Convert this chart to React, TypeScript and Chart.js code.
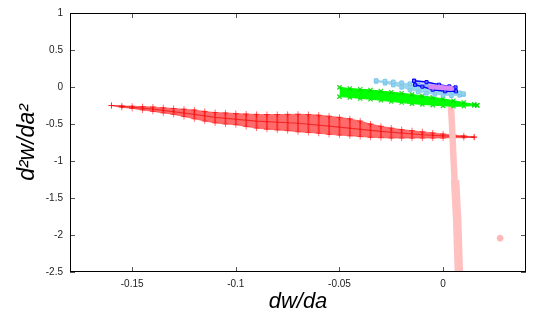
import React, { useEffect, useRef } from 'react';
import { Chart, registerables } from 'chart.js';

Chart.register(...registerables);

// ---- axis ticks ----
const X_TICKS = [-0.15, -0.1, -0.05, 0];
const X_TICK_LABELS = ['-0.15', '-0.1', '-0.05', '0'];
const Y_TICKS = [-2.5, -2, -1.5, -1, -0.5, 0, 0.5, 1];
const Y_TICK_LABELS = ['-2.5', '-2', '-1.5', '-1', '-0.5', '0', '0.5', '1'];

// ---- red (+) band: columns with upper / lower edges ----
const RED_X = [-0.160, -0.155, -0.150, -0.145, -0.140, -0.135, -0.130, -0.125, -0.120, -0.115, -0.110, -0.105, -0.100, -0.095, -0.090, -0.085, -0.080, -0.075, -0.070, -0.065, -0.060, -0.055, -0.050, -0.045, -0.040, -0.035, -0.030, -0.025, -0.020, -0.015, -0.010, -0.005, 0.000, 0.005, 0.010, 0.015];
const RED_TOP = [-0.25, -0.255, -0.26, -0.265, -0.27, -0.28, -0.29, -0.30, -0.31, -0.33, -0.345, -0.35, -0.358, -0.365, -0.37, -0.372, -0.372, -0.37, -0.368, -0.372, -0.38, -0.395, -0.41, -0.43, -0.46, -0.50, -0.53, -0.555, -0.575, -0.59, -0.605, -0.62, -0.635, -0.65, -0.66, -0.675];
const RED_BOT = [-0.25, -0.275, -0.29, -0.31, -0.33, -0.35, -0.37, -0.40, -0.43, -0.46, -0.485, -0.50, -0.51, -0.535, -0.555, -0.57, -0.58, -0.59, -0.605, -0.615, -0.625, -0.64, -0.65, -0.66, -0.67, -0.68, -0.685, -0.69, -0.69, -0.69, -0.69, -0.69, -0.69, -0.685, -0.685, -0.68];
const RED_MID_X = [-0.160, -0.140, -0.120, -0.110, -0.090, -0.070, -0.055, -0.030, -0.010, 0.000, 0.015];
const RED_MID_Y = [-0.25, -0.30, -0.37, -0.41, -0.46, -0.49, -0.528, -0.60, -0.645, -0.66, -0.677];

// ---- pink (circles) strip ----
const PINK_UPPER_X = [0.0038, 0.0042, 0.0050, 0.0056];
const PINK_UPPER_Y = [-0.27, -0.46, -0.95, -1.30];
const PINK_LOWER_X = [0.0058, 0.0068, 0.0076, 0.0078];
const PINK_LOWER_Y = [-1.26, -1.80, -2.50, -2.60];
const PINK_OUT_X = [0.0275];
const PINK_OUT_Y = [-2.043];

// ---- green (x) band ----
const GREEN_X = [-0.050, -0.045, -0.040, -0.035, -0.030, -0.025, -0.020, -0.015, -0.010, -0.005, 0.000, 0.005, 0.010, 0.015, 0.0165];
const GREEN_TOP = [-0.005, -0.02, -0.03, -0.04, -0.055, -0.07, -0.085, -0.10, -0.12, -0.14, -0.16, -0.185, -0.21, -0.235, -0.245];
const GREEN_BOT = [-0.13, -0.14, -0.155, -0.165, -0.18, -0.195, -0.21, -0.225, -0.235, -0.245, -0.255, -0.26, -0.26, -0.25, -0.25];

// ---- light blue (squares) band ----
const LB_X = [-0.0323, -0.028, -0.024, -0.020, -0.016, -0.012, -0.008, -0.004, 0.000, 0.004, 0.008, 0.0098];
const LB_TOP = [0.088, 0.080, 0.070, 0.058, 0.045, 0.030, 0.012, -0.008, -0.030, -0.055, -0.078, -0.090];
const LB_BOT = [0.075, 0.050, 0.025, -0.005, -0.040, -0.065, -0.085, -0.100, -0.112, -0.118, -0.112, -0.102];

// ---- blue (squares) loop ----
const BLUE_X = [-0.0140, -0.0080, -0.0020, 0.0030, 0.0060, 0.0062, 0.0010, -0.0050, -0.0100, -0.0135, -0.0140];
const BLUE_Y = [0.084, 0.066, 0.030, 0.008, -0.005, -0.058, -0.058, -0.036, 0.005, 0.030, 0.084];

// ---- violet blob ----
const PURPLE_X = [-0.0060, -0.0010, 0.0040];
const PURPLE_Y = [0.002, -0.008, -0.020];

const pts = (xs: number[], ys: number[]) => xs.map((x, i) => ({ x, y: ys[i] }));

const framePlugin = {
  id: 'frame',
  afterDatasetsDraw(chart: any) {
    const { ctx, chartArea: a, scales } = chart;
    ctx.save();
    ctx.strokeStyle = '#555';
    ctx.lineWidth = 1;
    ctx.beginPath();
    X_TICKS.forEach((v) => {
      const px = Math.round(scales.x.getPixelForValue(v)) + 0.5;
      ctx.moveTo(px, a.bottom);
      ctx.lineTo(px, a.bottom - 5);
      ctx.moveTo(px, a.top);
      ctx.lineTo(px, a.top + 5);
    });
    Y_TICKS.forEach((v) => {
      const py = Math.round(scales.y.getPixelForValue(v)) + 0.5;
      ctx.moveTo(a.left, py);
      ctx.lineTo(a.left + 5, py);
      ctx.moveTo(a.right, py);
      ctx.lineTo(a.right - 5, py);
    });
    ctx.stroke();
    ctx.strokeStyle = '#000';
    ctx.strokeRect(a.left + 0.5, a.top + 0.5, a.right - a.left - 1, a.bottom - a.top - 1);
    ctx.restore();
  },
};

export default function App() {
  const ref = useRef<HTMLCanvasElement | null>(null);

  useEffect(() => {
    if (!ref.current) return;
    const chart = new Chart(ref.current, {
      type: 'scatter',
      data: {
        datasets: [
          // violet
          {
            data: pts(PURPLE_X, PURPLE_Y),
            showLine: true,
            borderColor: 'rgb(215,135,245)',
            borderWidth: 5,
            borderCapStyle: 'round',
            pointRadius: 0,
            order: 1,
            clip: 0,
          } as any,
          // blue loop
          {
            data: pts(BLUE_X, BLUE_Y),
            showLine: true,
            fill: 'shape',
            backgroundColor: 'rgba(110,110,255,0.3)',
            borderColor: 'rgb(0,0,255)',
            borderWidth: 1.5,
            pointStyle: 'rect',
            pointRadius: 2.2,
            pointBackgroundColor: 'rgba(120,120,255,0.7)',
            pointBorderColor: 'rgb(0,0,255)',
            pointBorderWidth: 1,
            order: 2,
            clip: 0,
          } as any,
          // light blue top / bottom
          {
            data: pts(LB_X, LB_TOP),
            showLine: true,
            fill: '+1',
            backgroundColor: 'rgba(135,206,235,0.85)',
            borderColor: 'rgba(135,206,235,0.6)',
            borderWidth: 1,
            pointStyle: 'rect',
            pointRadius: 2.5,
            pointBackgroundColor: 'rgb(150,212,240)',
            pointBorderColor: 'rgb(125,198,232)',
            order: 3,
            clip: 0,
          } as any,
          {
            data: pts(LB_X, LB_BOT),
            showLine: true,
            borderColor: 'rgba(135,206,235,0.6)',
            borderWidth: 1,
            pointStyle: 'rect',
            pointRadius: 2.5,
            pointBackgroundColor: 'rgb(150,212,240)',
            pointBorderColor: 'rgb(125,198,232)',
            order: 3,
            clip: 0,
          } as any,
          // green top / bottom
          {
            data: pts(GREEN_X, GREEN_TOP),
            showLine: true,
            fill: '+1',
            backgroundColor: 'rgb(0,255,0)',
            borderColor: 'rgb(0,245,0)',
            borderWidth: 1,
            pointStyle: 'crossRot',
            pointRadius: 3,
            pointBorderColor: 'rgba(0,220,0,0.9)',
            pointBorderWidth: 1.2,
            order: 4,
            clip: 0,
          } as any,
          {
            data: pts(GREEN_X, GREEN_BOT),
            showLine: true,
            borderColor: 'rgb(0,245,0)',
            borderWidth: 1,
            pointStyle: 'crossRot',
            pointRadius: 3,
            pointBorderColor: 'rgba(0,220,0,0.9)',
            pointBorderWidth: 1.2,
            order: 4,
            clip: 0,
          } as any,
          // pink strip
          {
            data: pts(PINK_UPPER_X, PINK_UPPER_Y),
            showLine: true,
            borderColor: 'rgb(255,192,192)',
            borderWidth: 6.5,
            borderCapStyle: 'round',
            borderJoinStyle: 'round',
            pointRadius: 0,
            order: 5,
            clip: 0,
          } as any,
          {
            data: pts(PINK_LOWER_X, PINK_LOWER_Y),
            showLine: true,
            borderColor: 'rgb(255,192,192)',
            borderWidth: 8.5,
            borderCapStyle: 'butt',
            borderJoinStyle: 'round',
            pointRadius: 0,
            order: 5,
            clip: 0,
          } as any,
          {
            data: pts(PINK_OUT_X, PINK_OUT_Y),
            pointStyle: 'circle',
            pointRadius: 3,
            backgroundColor: 'rgb(255,185,185)',
            borderColor: 'rgb(255,185,185)',
            order: 5,
            clip: 0,
          } as any,
          // red centre line
          {
            data: pts(RED_MID_X, RED_MID_Y),
            showLine: true,
            borderColor: 'rgba(235,0,0,0.6)',
            borderWidth: 1.2,
            pointRadius: 0,
            order: 6,
            clip: 0,
          } as any,
          // red top / bottom
          {
            data: pts(RED_X, RED_TOP),
            showLine: true,
            fill: '+1',
            backgroundColor: 'rgba(255,50,50,0.72)',
            borderColor: 'rgba(255,70,70,0.6)',
            borderWidth: 1,
            pointStyle: 'cross',
            pointRadius: 3,
            pointBorderColor: 'rgba(255,0,0,0.6)',
            pointBorderWidth: 1,
            order: 7,
            clip: 0,
          } as any,
          {
            data: pts(RED_X, RED_BOT),
            showLine: true,
            borderColor: 'rgba(255,70,70,0.6)',
            borderWidth: 1,
            pointStyle: 'cross',
            pointRadius: 3,
            pointBorderColor: 'rgba(255,0,0,0.55)',
            pointBorderWidth: 1,
            order: 7,
            clip: 0,
          } as any,
          // red vertical stripes (columns of + markers)
          {
            type: 'bar',
            data: RED_X.map((x, i) => ({ x, y: [RED_BOT[i], RED_TOP[i]] })),
            backgroundColor: 'rgba(240,0,0,0.8)',
            barThickness: 1.3,
            grouped: false,
            order: 8,
            clip: 0,
          } as any,
        ],
      },
      options: {
        animation: false,
        responsive: false,
        events: [],
        layout: { padding: { left: 0, right: 19, top: 11, bottom: 0 } },
        plugins: {
          legend: { display: false },
          tooltip: { enabled: false },
        },
        scales: {
          x: {
            type: 'linear',
            min: -0.18,
            max: 0.04,
            offset: false,
            grid: { display: false, drawTicks: false, offset: false },
            border: { display: false },
            afterBuildTicks: (scale: any) => {
              scale.ticks = X_TICKS.map((v) => ({ value: v }));
            },
            afterFit: (scale: any) => {
              scale.height = 55;
            },
            ticks: {
              padding: 6,
              color: '#222',
              font: { family: '"Liberation Sans", Arial, sans-serif', size: 10 },
              maxRotation: 0,
              callback: (v: any) => {
                const i = X_TICKS.findIndex((t) => Math.abs(t - Number(v)) < 1e-9);
                return i >= 0 ? X_TICK_LABELS[i] : '';
              },
            },
            title: {
              display: true,
              text: 'dw/da',
              color: '#000',
              padding: { top: 0, bottom: 12 },
              font: { family: '"Liberation Sans", Arial, sans-serif', size: 22, style: 'italic' },
            },
          },
          y: {
            type: 'linear',
            min: -2.5,
            max: 1,
            beginAtZero: false,
            grid: { display: false, drawTicks: false },
            border: { display: false },
            afterBuildTicks: (scale: any) => {
              scale.ticks = Y_TICKS.map((v) => ({ value: v }));
            },
            afterFit: (scale: any) => {
              scale.width = 70;
            },
            ticks: {
              padding: 7,
              color: '#222',
              font: { family: '"Liberation Sans", Arial, sans-serif', size: 10 },
              callback: (v: any) => {
                const i = Y_TICKS.findIndex((t) => Math.abs(t - Number(v)) < 1e-9);
                return i >= 0 ? Y_TICK_LABELS[i] : '';
              },
            },
            title: {
              display: true,
              text: 'd²w/da²',
              color: '#000',
              padding: { top: 14, bottom: 0 },
              font: { family: '"Liberation Sans", Arial, sans-serif', size: 23, style: 'italic' },
            },
          },
        },
      } as any,
      plugins: [framePlugin],
    });
    return () => chart.destroy();
  }, []);

  return (
    <div style={{ position: 'fixed', left: 0, top: 0, width: 545, height: 327, background: '#fff' }}>
      <canvas ref={ref} width={545} height={327} style={{ display: 'block', width: 545, height: 327 }} />
    </div>
  );
}
